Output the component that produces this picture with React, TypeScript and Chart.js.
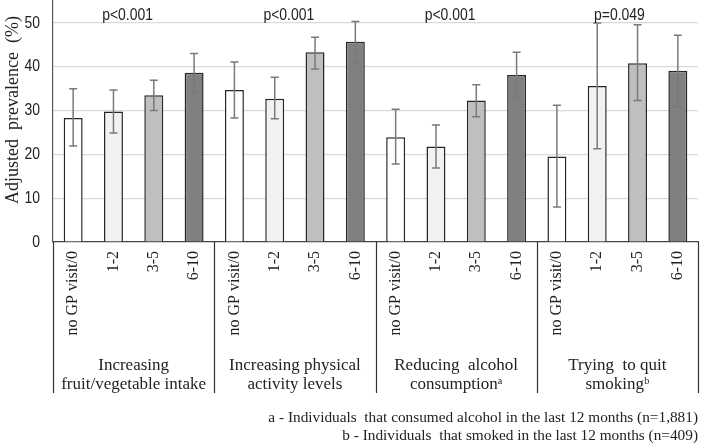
import React, { useEffect, useRef } from "react";
import { Chart, registerables } from "chart.js";

Chart.register(...registerables);

const categories = [
  "no GP visit/0", "1-2", "3-5", "6-10",
  "no GP visit/0", "1-2", "3-5", "6-10",
  "no GP visit/0", "1-2", "3-5", "6-10",
  "no GP visit/0", "1-2", "3-5", "6-10",
];
const values = [28.3, 29.8, 33.5, 38.6, 34.7, 32.7, 43.3, 45.7, 23.9, 21.8, 32.3, 38.1, 19.5, 35.6, 40.8, 39.1];
const lowerCI = [21.9, 24.9, 30.0, 34.2, 28.3, 28.1, 39.5, 40.8, 17.8, 16.9, 28.6, 33.0, 8.0, 21.3, 32.3, 30.8];
const upperCI = [35.0, 34.7, 36.9, 43.0, 41.1, 37.6, 46.7, 50.3, 30.3, 26.7, 35.9, 43.3, 31.2, 50.0, 49.6, 47.2];
const groupLabels = [
  ["Increasing", "fruit/vegetable intake"],
  ["Increasing physical", "activity levels"],
  ["Reducing  alcohol", "consumption\u1d43"],
  ["Trying  to quit", "smoking\u1d47"],
];
const pValues = ["p<0.001", "p<0.001", "p<0.001", "p=0.049"];
const pValuePos = [1.35, 5.35, 9.35, 13.55];
const yTitle = "Adjusted  prevalence  (%)";
const footnotes = [
  "a - Individuals  that consumed alcohol in the last 12 months (n=1,881)",
  "b - Individuals  that smoked in the last 12 months (n=409)",
];
const barColors = ["#ffffff", "#f2f2f2", "#bfbfbf", "#808080"];

const SERIF = '"Liberation Serif", "Times New Roman", serif';
const SANS = '"Liberation Sans", Arial, sans-serif';

function condensedText(ctx: any, text: string, x: number, y: number, sx: number) {
  ctx.save();
  ctx.translate(x, y);
  ctx.scale(sx, 1);
  ctx.fillText(text, 0, 0);
  ctx.restore();
}

const annotationPlugin = {
  id: "annot",
  afterDatasetsDraw(chart: any) {
    const ctx = chart.ctx;
    const x = chart.scales.x;
    const y = chart.scales.y;
    const area = chart.chartArea;
    const meta = chart.getDatasetMeta(0);
    ctx.save();
    // error bars
    ctx.strokeStyle = "#7a7a7a";
    ctx.lineWidth = 1.5;
    meta.data.forEach((bar: any, i: number) => {
      const bx = bar.x;
      const yl = y.getPixelForValue(lowerCI[i]);
      const yh = y.getPixelForValue(upperCI[i]);
      ctx.beginPath();
      ctx.moveTo(bx, yl);
      ctx.lineTo(bx, yh);
      ctx.moveTo(bx - 4, yl);
      ctx.lineTo(bx + 4, yl);
      ctx.moveTo(bx - 4, yh);
      ctx.lineTo(bx + 4, yh);
      ctx.stroke();
    });
    // y tick labels (condensed sans)
    ctx.fillStyle = "#222";
    ctx.font = "17px " + SANS;
    ctx.textAlign = "right";
    ctx.textBaseline = "middle";
    y.ticks.forEach((t: any) => {
      condensedText(ctx, String(t.value), 40, y.getPixelForValue(t.value), 0.82);
    });
    // p values
    ctx.textAlign = "center";
    pValues.forEach((p, i) => {
      condensedText(ctx, p, x.getPixelForValue(pValuePos[i]), 15, 0.82);
    });
    // group separators
    ctx.strokeStyle = "#333";
    ctx.lineWidth = 1.2;
    const bounds: number[] = [];
    for (let g = 0; g <= 4; g++) {
      const px = area.left + ((area.right - area.left) * g) / 4;
      bounds.push(px);
      ctx.beginPath();
      ctx.moveTo(Math.round(px) + 0.5, area.bottom);
      ctx.lineTo(Math.round(px) + 0.5, 393);
      ctx.stroke();
    }
    // group labels
    ctx.font = "17px " + SERIF;
    ctx.fillStyle = "#222";
    groupLabels.forEach((lines, g) => {
      const cx = (bounds[g] + bounds[g + 1]) / 2;
      lines.forEach((ln, k) => {
        ctx.fillText(ln, cx, 366 + k * 19);
      });
    });
    // footnotes
    ctx.font = "15.3px " + SERIF;
    ctx.textAlign = "right";
    footnotes.forEach((f, k) => {
      ctx.fillText(f, 698, 418 + k * 18);
    });
    // y title
    ctx.translate(13, 110);
    ctx.rotate(-Math.PI / 2);
    ctx.textAlign = "center";
    ctx.font = "18px " + SERIF;
    ctx.fillText(yTitle, 0, 0);
    ctx.restore();
  },
};

export default function App() {
  const ref = useRef<HTMLCanvasElement>(null);
  useEffect(() => {
    if (!ref.current) return;
    const chart = new Chart(ref.current, {
      type: "bar",
      data: {
        labels: categories,
        datasets: [
          {
            data: values,
            backgroundColor: values.map((_, i) => barColors[i % 4]),
            borderColor: "#262626",
            borderWidth: 1.5,
            barPercentage: 0.47,
            categoryPercentage: 1,
          },
        ],
      },
      options: {
        animation: false,
        responsive: false,
        layout: { padding: { top: 1, right: 11, left: 0, bottom: 0 } },
        plugins: { legend: { display: false }, tooltip: { enabled: false } },
        scales: {
          x: {
            grid: { display: false, drawTicks: false },
            border: { display: true, color: "#444", width: 1.2 },
            ticks: {
              minRotation: 90,
              maxRotation: 90,
              autoSkip: false,
              padding: 9,
              color: "#222",
              font: { family: SERIF, size: 16 },
            },
            afterFit: (s: any) => {
              s.height = 202;
            },
          },
          y: {
            min: 0,
            max: 55,
            ticks: {
              stepSize: 10,
              display: false,
            },
            afterBuildTicks: (s: any) => {
              s.ticks = s.ticks.filter((t: any) => t.value <= 50);
            },
            grid: {
              color: (c: any) => (c.tick && c.tick.value === 0 ? "rgba(0,0,0,0)" : "#d9d9d9"),
              lineWidth: 1.2,
              drawTicks: false,
            },
            border: { display: true, color: "#555", width: 1.2 },
            afterFit: (s: any) => {
              s.width = 53;
            },
          },
        },
      },
      plugins: [annotationPlugin],
    });
    return () => chart.destroy();
  }, []);
  return (
    <div style={{ position: "absolute", left: 0, top: 0, width: 709, height: 444, background: "#fff" }}>
      <canvas ref={ref} width={709} height={444} style={{ display: "block" }} />
    </div>
  );
}
